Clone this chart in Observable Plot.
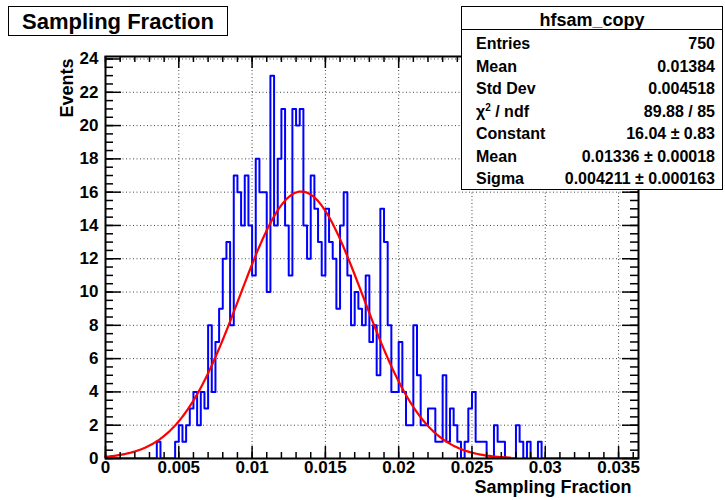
<!DOCTYPE html>
<html>
<head>
<meta charset="utf-8">
<script src="https://cdn.jsdelivr.net/npm/d3@7"></script>
<script src="https://cdn.jsdelivr.net/npm/@observablehq/plot@0.6"></script>
<style>
  body { margin: 0; background: #fff; font-family: "Liberation Sans", Arial, Helvetica, sans-serif; }
  #wrap { position: relative; width: 725px; height: 500px; overflow: hidden; }
  #title { position: absolute; left: 8px; top: 6px; width: 218px; height: 28px; border: 1.5px solid #000;
           background: #fff; font-weight: bold; font-size: 22px; line-height: 29px; text-align: center; }
  #stats { position: absolute; left: 461px; top: 6px; width: 260px; height: 182px; border: 1.5px solid #000;
           background: #fff; font-weight: bold; font-size: 16px; box-sizing: content-box; }
  #stats .hdr { height: 22px; line-height: 26px; text-align: center; font-size: 18px; border-bottom: 1.2px solid #000; }
  #stats .row { position: absolute; left: 14px; right: 7px; height: 22px; line-height: 22px; display: flex; justify-content: space-between; }
  sup { font-size: 10px; line-height: 0; }
</style>
</head>
<body>
<div id="wrap">
  <div id="chart"></div>
  <div id="title"></div>
  <div id="stats"></div>
</div>
<script>
// ---------------- data ----------------
const chartTitle = "Sampling Fraction";
const xTitle = "Sampling Fraction";
const yTitle = "Events";
const binWidth = 0.00025;       // histogram bin width
const binStart = 0;             // lower edge of first bin
// bin contents, bins 0..118
const binCounts = [
  0,0,0,0,0,0,0,0,0,0, 0,0,0,0,1,0,0,0,0,1,
  2,1,2,3,4,2,4,3,8,4, 7,9,12,13,8,17,16,14,17,14,
  11,18,16,16,10,23,14,18,21,14, 11,21,20,21,14,12,17,15,13,11,
  15,13,12,9,14,16,11,8,10,9, 8,11,7,8,5,15,13,8,4,4,
  7,4,2,2,8,5,2,2,3,3, 1,1,5,1,3,2,1,0,1,3,
  4,1,1,1,0,0,2,1,1,0, 0,0,2,1,0,1,0,0,1
];
// Gaussian fit parameters (from stats box)
const fitConstant = 16.04, fitMean = 0.01336, fitSigma = 0.004211;
const fitRange = [0, 0.0276];
const xDomain = [0, 0.03636];
const yDomain = [0, 24.15];
const xTicks = [0, 0.005, 0.01, 0.015, 0.02, 0.025, 0.03, 0.035];
const xTickLabels = ["0", "0.005", "0.01", "0.015", "0.02", "0.025", "0.03", "0.035"];
const yTicks = [0, 2, 4, 6, 8, 10, 12, 14, 16, 18, 20, 22, 24];
const yTickLabels = ["0", "2", "4", "6", "8", "10", "12", "14", "16", "18", "20", "22", "24"];
const statsName = "hfsam_copy";
const statsLabels = ["Entries", "Mean", "Std Dev", "χ<sup>2</sup> / ndf", "Constant", "Mean", "Sigma"];
const statsValues = ["750", "0.01384", "0.004518", "89.88 / 85", "16.04 &#177; 0.83", "0.01336 &#177; 0.00018", "0.004211 &#177; 0.000163"];

// ---------------- build ----------------
const W = 725, H = 500, mL = 105, mR = 87, mT = 56, mB = 42;
const innerW = W - mL - mR, innerH = H - mT - mB;

const steps = binCounts.map((v, k) => ({x: binStart + k * binWidth, y: v}));
steps.push({x: binStart + binCounts.length * binWidth, y: 0});
steps.push({x: xDomain[1], y: 0});

const fitPts = d3.range(fitRange[0], fitRange[1] + 1e-9, 0.0001).map(x => ({
  x, y: fitConstant * Math.exp(-0.5 * ((x - fitMean) / fitSigma) ** 2)
}));

const xMinor = d3.range(0, xDomain[1], 0.001);
const yMinor = d3.range(0, yDomain[1], 0.5);
const font = "bold";

const plot = Plot.plot({
  width: W, height: H,
  marginLeft: mL, marginRight: mR, marginTop: mT, marginBottom: mB,
  style: {fontFamily: '"Liberation Sans", Arial, Helvetica, sans-serif', background: "#fff", overflow: "visible"},
  x: {domain: xDomain, axis: null},
  y: {domain: yDomain, axis: null},
  marks: [
    Plot.gridX(xTicks.slice(1), {stroke: "#444", strokeOpacity: 1, strokeDasharray: "1,2.5", strokeWidth: 1}),
    Plot.gridY(yTicks.slice(1), {stroke: "#444", strokeOpacity: 1, strokeDasharray: "1,2.5", strokeWidth: 1}),
    Plot.line(steps, {x: "x", y: "y", curve: "step-after", stroke: "#0000ff", strokeWidth: 2, clip: true}),
    Plot.line(fitPts, {x: "x", y: "y", stroke: "#ff0000", strokeWidth: 2.2, curve: "linear"}),
    // ticks (inside frame)
    Plot.tickX(xMinor, {x: d => d, insetTop: innerH - 6, strokeWidth: 1.5}),
    Plot.tickX(xTicks, {x: d => d, insetTop: innerH - 12, strokeWidth: 1.5}),
    Plot.tickX(xMinor, {x: d => d, insetBottom: innerH - 6, strokeWidth: 1.5}),
    Plot.tickX(xTicks, {x: d => d, insetBottom: innerH - 12, strokeWidth: 1.5}),
    Plot.tickY(yMinor, {y: d => d, insetRight: innerW - 8, strokeWidth: 1.5}),
    Plot.tickY(yTicks, {y: d => d, insetRight: innerW - 16, strokeWidth: 1.5}),
    Plot.tickY(yMinor, {y: d => d, insetLeft: innerW - 8, strokeWidth: 1.5}),
    Plot.tickY(yTicks, {y: d => d, insetLeft: innerW - 16, strokeWidth: 1.5}),
    Plot.frame({stroke: "#000", strokeWidth: 2}),
    // tick labels
    Plot.text(xTicks, {x: d => d, frameAnchor: "bottom", dy: 2, lineAnchor: "top", text: (d, i) => xTickLabels[i],
      fontSize: 17, fontWeight: font, fill: "#000"}),
    Plot.text(yTicks, {y: d => d, frameAnchor: "left", dx: -7, textAnchor: "end", text: (d, i) => yTickLabels[i],
      fontSize: 17, fontWeight: font, fill: "#000"}),
    // axis titles
    Plot.text([xTitle], {frameAnchor: "bottom-right", textAnchor: "end", dx: -7, dy: 34, text: d => d,
      fontSize: 18, fontWeight: font, fill: "#000"}),
    Plot.text([yTitle], {frameAnchor: "top-left", rotate: -90, textAnchor: "end", dx: -45, dy: 2, text: d => d,
      fontSize: 18, fontWeight: font, fill: "#000"})
  ]
});
document.getElementById("chart").appendChild(plot);

document.getElementById("title").textContent = chartTitle;
const stats = document.getElementById("stats");
let html = `<div class="hdr">${statsName}</div>`;
statsLabels.forEach((lab, i) => {
  const top = 26 + i * 22.5;
  html += `<div class="row" style="top:${top}px"><span>${lab}</span><span>${statsValues[i]}</span></div>`;
});
stats.innerHTML = html;
</script>
</body>
</html>
